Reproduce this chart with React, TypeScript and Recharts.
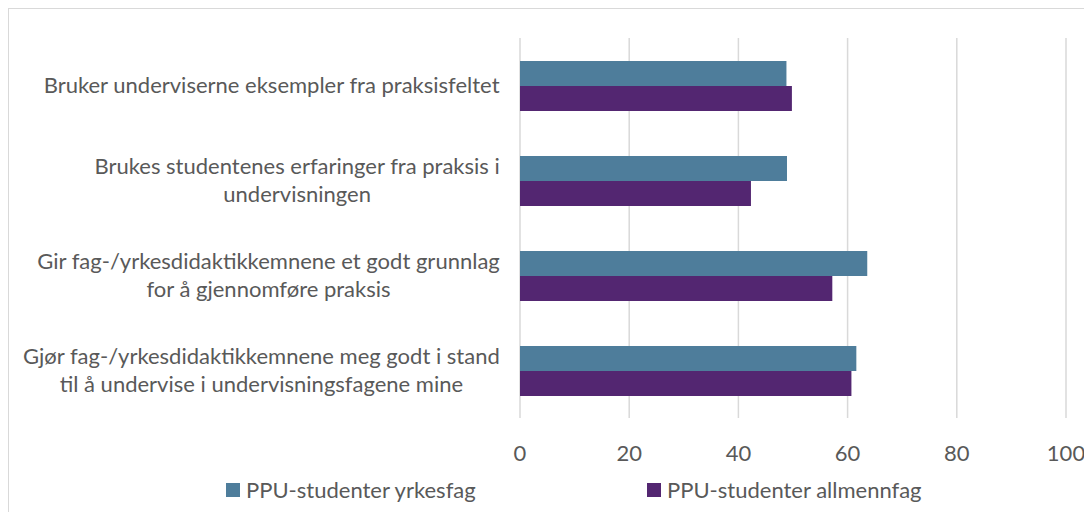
import { BarChart, Bar, XAxis, YAxis, CartesianGrid } from 'recharts';

const categories = [
  'Bruker underviserne eksempler fra praksisfeltet',
  'Brukes studentenes erfaringer fra praksis i\nundervisningen',
  'Gir fag-/yrkesdidaktikkemnene et godt grunnlag\nfor å gjennomføre praksis',
  'Gjør fag-/yrkesdidaktikkemnene meg godt i stand\ntil å undervise i undervisningsfagene mine',
];
const yrkesfag = [48.8, 48.9, 63.6, 61.6];
const allmennfag = [49.8, 42.3, 57.2, 60.7];
const xTicks = [0, 20, 40, 60, 80, 100];
const seriesNames = ['PPU-studenter yrkesfag', 'PPU-studenter allmennfag'];

const TEAL = '#4e7d9b';
const PURPLE = '#532671';
const TEXT = '#595959';
const FONT = 'Lato, "Open Sans", sans-serif';
const FONT_SIZE = 22;

const data = categories.map((name, i) => ({
  name,
  yrkesfag: yrkesfag[i],
  allmennfag: allmennfag[i],
}));

let ctx: CanvasRenderingContext2D | null = null;
function measure(text: string): number {
  if (!ctx) ctx = document.createElement('canvas').getContext('2d');
  if (!ctx) return text.length * 10;
  ctx.font = `${FONT_SIZE}px Lato`;
  return ctx.measureText(text).width;
}

function CategoryTick(props: any) {
  const { x, y, payload } = props;
  const lines: string[] = String(payload.value).split('\n');
  const widest = Math.max(...lines.map(measure));
  const cx = x - widest / 2;
  const lineH = 28;
  const startY = y - ((lines.length - 1) * lineH) / 2 - 2;
  return (
    <text
      x={cx}
      y={startY}
      textAnchor="middle"
      dominantBaseline="central"
      fill={TEXT}
      fontSize={FONT_SIZE}
      fontFamily={FONT}
    >
      {lines.map((l, i) => (
        <tspan key={i} x={cx} y={startY + i * lineH}>
          {l}
        </tspan>
      ))}
    </text>
  );
}

function ValueTick(props: any) {
  const { x, y, payload } = props;
  return (
    <text
      x={x}
      y={y + 32}
      textAnchor="middle"
      dominantBaseline="central"
      fill={TEXT}
      fontSize={FONT_SIZE}
      fontFamily={FONT}
    >
      {payload.value}
    </text>
  );
}

function ChartLegend() {
  const items = [
    { label: seriesNames[0], color: TEAL, left: 217 },
    { label: seriesNames[1], color: PURPLE, left: 638 },
  ];
  return (
    <div style={{ position: 'absolute', left: 0, top: 469, width: 1083, height: 24 }}>
      {items.map((it) => (
        <div
          key={it.label}
          style={{
            position: 'absolute',
            left: it.left,
            top: 0,
            display: 'flex',
            alignItems: 'center',
            fontFamily: FONT,
            fontSize: FONT_SIZE,
            color: TEXT,
            lineHeight: '24px',
            whiteSpace: 'nowrap',
          }}
        >
          <span
            style={{
              display: 'inline-block',
              width: 14,
              height: 14,
              background: it.color,
              marginRight: 6,
            }}
          />
          {it.label}
        </div>
      ))}
    </div>
  );
}

export default function App() {
  if (typeof document !== 'undefined') {
    document.documentElement.style.overflow = 'hidden';
  }
  return (
    <div
      style={{
        position: 'relative',
        width: 1084,
        height: 503,
        borderTop: '1px solid #d9d9d9',
        borderLeft: '1px solid #d9d9d9',
        background: '#fff',
      }}
    >
      <BarChart
        width={1083}
        height={503}
        data={data}
        layout="vertical"
        margin={{ top: 29, right: 26, bottom: 64, left: 0 }}
        barGap={0}
        barSize={25}
        style={{ overflow: 'visible' }}
      >
        <CartesianGrid horizontal={false} stroke="#d9d9d9" strokeWidth={1.5} />
        <XAxis
          type="number"
          domain={[0, 100]}
          ticks={xTicks}
          height={30}
          axisLine={false}
          tickLine={false}
          tickSize={0}
          tick={<ValueTick />}
        />
        <YAxis
          type="category"
          dataKey="name"
          width={511}
          axisLine={false}
          tickLine={false}
          tickSize={0}
          tickMargin={20}
          interval={0}
          tick={<CategoryTick />}
        />
        <Bar dataKey="yrkesfag" name={seriesNames[0]} fill={TEAL} isAnimationActive={false} />
        <Bar dataKey="allmennfag" name={seriesNames[1]} fill={PURPLE} isAnimationActive={false} />
      </BarChart>
      <ChartLegend />
    </div>
  );
}
